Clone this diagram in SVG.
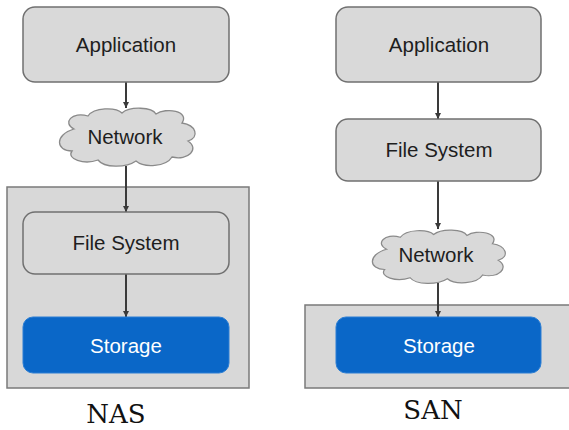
<svg xmlns="http://www.w3.org/2000/svg" width="569" height="430" viewBox="0 0 569 430">
<defs>
<style>
.box{fill:#d9d9d9;stroke:#707070;stroke-width:1.5}
.cont{fill:#d8d8d8;stroke:#7a7a7a;stroke-width:1.5}
.store{fill:#0a67c8;stroke:#2d7fd4;stroke-width:1}
.cloud{fill:#d9d9d9;stroke:#8a8a8a;stroke-width:1.3}
.lbl{font-family:"Liberation Sans",Arial,sans-serif;font-size:20.5px;fill:#1e1e1e;text-anchor:middle}
.wlbl{font-family:"Liberation Sans",Arial,sans-serif;font-size:20.5px;fill:#ffffff;text-anchor:middle}
.cap{font-family:"DejaVu Serif","Liberation Serif",serif;font-size:26px;fill:#111;text-anchor:middle}
.conn{stroke:#3a3a3a;stroke-width:2;fill:none;marker-end:url(#ah)}
</style>
<marker id="ah" viewBox="0 0 10 10" refX="10" refY="5" markerWidth="3.2" markerHeight="3.2" orient="auto" markerUnits="strokeWidth">
<path d="M0,0 L10,5 L0,10 Z" fill="#3a3a3a"/>
</marker>
<path id="cloudShape" d="M20,22 C8,16 18,4 34,9 C40,0 62,0 68,6 C76,-1 98,0 102,7 C112,0 136,4 128,16 C142,18 146,30 134,34 C146,42 134,54 118,50 C112,60 90,61 82,54 C72,61 50,61 44,53 C30,58 12,52 18,44 C2,44 0,28 20,22 Z"/>
</defs>
<rect width="569" height="430" fill="#ffffff"/>

<g id="nas-container"><rect class="cont" x="7" y="187" width="242" height="201"/></g>
<g id="san-container"><rect class="cont" x="305" y="305" width="270" height="83"/></g>

<g id="connectors">
<line class="conn" x1="126" y1="82" x2="126" y2="108"/>
<line class="conn" x1="126" y1="166" x2="126" y2="212"/>
<line class="conn" x1="126" y1="274" x2="126" y2="317"/>
<line class="conn" x1="438" y1="82" x2="438" y2="119"/>
<line class="conn" x1="438" y1="181" x2="438" y2="229"/>
<line class="conn" x1="438" y1="283" x2="438" y2="317"/>
</g>

<g id="nas-app"><rect class="box" x="23" y="7" width="206" height="75" rx="12"/><text class="lbl" x="126" y="52">Application</text></g>
<g id="nas-network"><use href="#cloudShape" class="cloud" transform="translate(54,107)"/><text class="lbl" x="125" y="144">Network</text></g>
<g id="nas-fs"><rect class="box" x="23" y="212" width="206" height="62" rx="12"/><text class="lbl" x="126" y="250">File System</text></g>
<g id="nas-storage"><rect class="store" x="23" y="317" width="206" height="56" rx="10"/><text class="wlbl" x="126" y="353">Storage</text></g>
<text class="cap" x="116" y="423">NAS</text>

<g id="san-app"><rect class="box" x="336" y="7" width="205" height="75" rx="12"/><text class="lbl" x="439" y="52">Application</text></g>
<g id="san-fs"><rect class="box" x="336" y="119" width="205" height="62" rx="12"/><text class="lbl" x="439" y="157">File System</text></g>
<g id="san-network"><use href="#cloudShape" class="cloud" transform="translate(367,229) scale(0.98,0.92)"/><text class="lbl" x="436" y="262">Network</text></g>
<g id="san-storage"><rect class="store" x="336" y="317" width="205" height="56" rx="10"/><text class="wlbl" x="439" y="353">Storage</text></g>
<text class="cap" x="433" y="419">SAN</text>
</svg>
